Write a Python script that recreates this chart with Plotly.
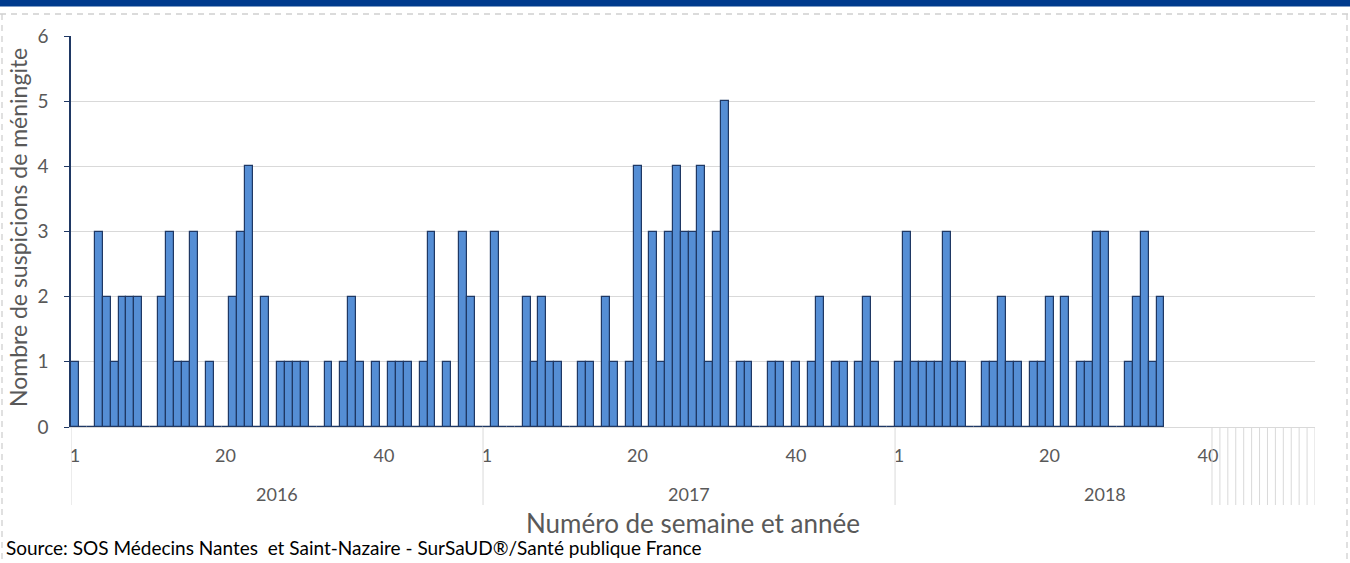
import plotly.graph_objects as go

# weekly counts of suspected meningitis (SOS Médecins Nantes / Saint-Nazaire)
years = [2016, 2017, 2018]
weeks_in_year = [52, 52, 53]
cases_2016 = [1, 0, 0, 3, 2, 1, 2, 2, 2, 0, 0, 2, 3, 1, 1, 3, 0, 1, 0, 0,
              2, 3, 4, 0, 2, 0, 1, 1, 1, 1, 0, 0, 1, 0, 1, 2, 1, 0, 1, 0,
              1, 1, 1, 0, 1, 3, 0, 1, 0, 3, 2, 0]
cases_2017 = [0, 3, 0, 0, 0, 2, 1, 2, 1, 1, 0, 0, 1, 1, 0, 2, 1, 0, 1, 4,
              0, 3, 1, 3, 4, 3, 3, 4, 1, 3, 5, 0, 1, 1, 0, 0, 1, 1, 0, 1,
              0, 1, 2, 0, 1, 1, 0, 1, 2, 1, 0, 0]
cases_2018 = [1, 3, 1, 1, 1, 1, 3, 1, 1, 0, 0, 1, 1, 2, 1, 1, 0, 1, 1, 2,
              0, 2, 0, 1, 1, 3, 3, 0, 0, 1, 2, 3, 1, 2]
labelled_weeks = [1, 20, 40]
# weeks of 2018 from this one on get their own small tick lines in the source
tick_from_week = 40

series = [cases_2016, cases_2017, cases_2018]

# build one running category position per week
xs, ys = [], []
year_start = []
pos = 0
for n, vals in zip(weeks_in_year, series):
    year_start.append(pos)
    for w in range(n):
        if w < len(vals):
            xs.append(pos + w)
            ys.append(vals[w])
    pos += n
n_total = pos

tickvals, ticktext = [], []
for start in year_start:
    for w in labelled_weeks:
        tickvals.append(start + w - 1)
        ticktext.append(str(w))

GREY_TXT = '#595959'
NAVY = '#1F3864'
FONT = 'Lato, "Open Sans", sans-serif'

fig = go.Figure()
fig.add_trace(go.Bar(
    x=xs, y=ys, width=1.0,
    marker=dict(color='#558ED5', line=dict(color=NAVY, width=1.2)),
    hoverinfo='x+y', showlegend=False,
))

# plot area in pixels: x 71..1315, y 36..427
PH = 427 - 36
PW = 1315 - 71
def py(px):  # page pixel y -> paper y
    return (427 - px) / PH
def pxx(px):  # page pixel x -> paper x
    return (px - 71) / PW

shapes = []
# year separators and left edge below the axis
for start in year_start:
    shapes.append(dict(type='line', xref='x', yref='paper',
                       x0=start - 0.5, x1=start - 0.5, y0=0, y1=py(505),
                       line=dict(color='#D9D9D9', width=1)))
# small week ticks at the end of 2018
last = year_start[-1]
for w in range(tick_from_week, weeks_in_year[-1] + 1):
    xv = last + w - 0.5
    shapes.append(dict(type='line', xref='x', yref='paper',
                       x0=xv, x1=xv, y0=0, y1=py(505),
                       line=dict(color='#D9D9D9', width=1)))

# blue banner and dashed frame
shapes.append(dict(type='rect', xref='paper', yref='paper',
                   x0=pxx(-2), x1=pxx(1352), y0=py(-2), y1=py(6.5),
                   fillcolor='#003A8C', line=dict(width=0)))
dash = dict(color='#D0D0D0', width=1.3, dash='6px,5px')
shapes.append(dict(type='line', xref='paper', yref='paper',
                   x0=pxx(0), x1=pxx(1350), y0=py(14), y1=py(14), line=dash))
shapes.append(dict(type='line', xref='paper', yref='paper',
                   x0=pxx(2), x1=pxx(2), y0=py(14), y1=py(563), line=dash))
shapes.append(dict(type='line', xref='paper', yref='paper',
                   x0=pxx(1347), x1=pxx(1347), y0=py(14), y1=py(563), line=dash))

annotations = []
for yr, start, n in zip(years, year_start, weeks_in_year):
    annotations.append(dict(text=str(yr), xref='x', yref='paper',
                            x=start + (n - 1) / 2, y=py(494), yanchor='middle',
                            showarrow=False, font=dict(size=18, color=GREY_TXT, family=FONT)))
annotations.append(dict(text='Numéro de semaine et année', xref='paper', yref='paper',
                        x=0.5, y=py(523), xanchor='center', yanchor='middle', showarrow=False,
                        font=dict(size=26, color=GREY_TXT, family=FONT)))
annotations.append(dict(text='Nombre de suspicions de méningite', xref='paper', yref='paper',
                        x=pxx(18), y=py(228), xanchor='center', yanchor='middle',
                        textangle=-90, showarrow=False,
                        font=dict(size=23, color=GREY_TXT, family=FONT)))
annotations.append(dict(text='Source: SOS Médecins Nantes  et Saint-Nazaire - SurSaUD®/Santé publique France',
                        xref='paper', yref='paper', x=pxx(4), y=py(547),
                        xanchor='left', yanchor='middle', showarrow=False,
                        font=dict(size=19, color='#000000', family=FONT)))

fig.update_layout(
    width=1350, height=563,
    margin=dict(l=71, r=35, t=36, b=136),
    paper_bgcolor='white', plot_bgcolor='white',
    bargap=0,
    font=dict(family=FONT, color=GREY_TXT),
    xaxis=dict(range=[-0.5, n_total - 0.5], tickvals=tickvals, ticktext=ticktext,
               showgrid=False, zeroline=False, showline=True, linecolor='#D9D9D9',
               linewidth=1, ticks='', ticklabelstandoff=12,
               tickfont=dict(size=18, color=GREY_TXT, family=FONT)),
    yaxis=dict(range=[0, 6], dtick=1, showgrid=True, gridcolor='#D9D9D9', gridwidth=1,
               zeroline=False, showline=True, linecolor=NAVY, linewidth=1.5,
               ticks='outside', ticklen=5, tickcolor=NAVY, ticklabelstandoff=12,
               tickfont=dict(size=19, color=GREY_TXT, family=FONT)),
    shapes=shapes, annotations=annotations,
)

# drop the default page margin so the figure sits at the window's corner
fig.write_html('out.html', config={'displayModeBar': False},
               post_script="document.body.style.margin='0';")
